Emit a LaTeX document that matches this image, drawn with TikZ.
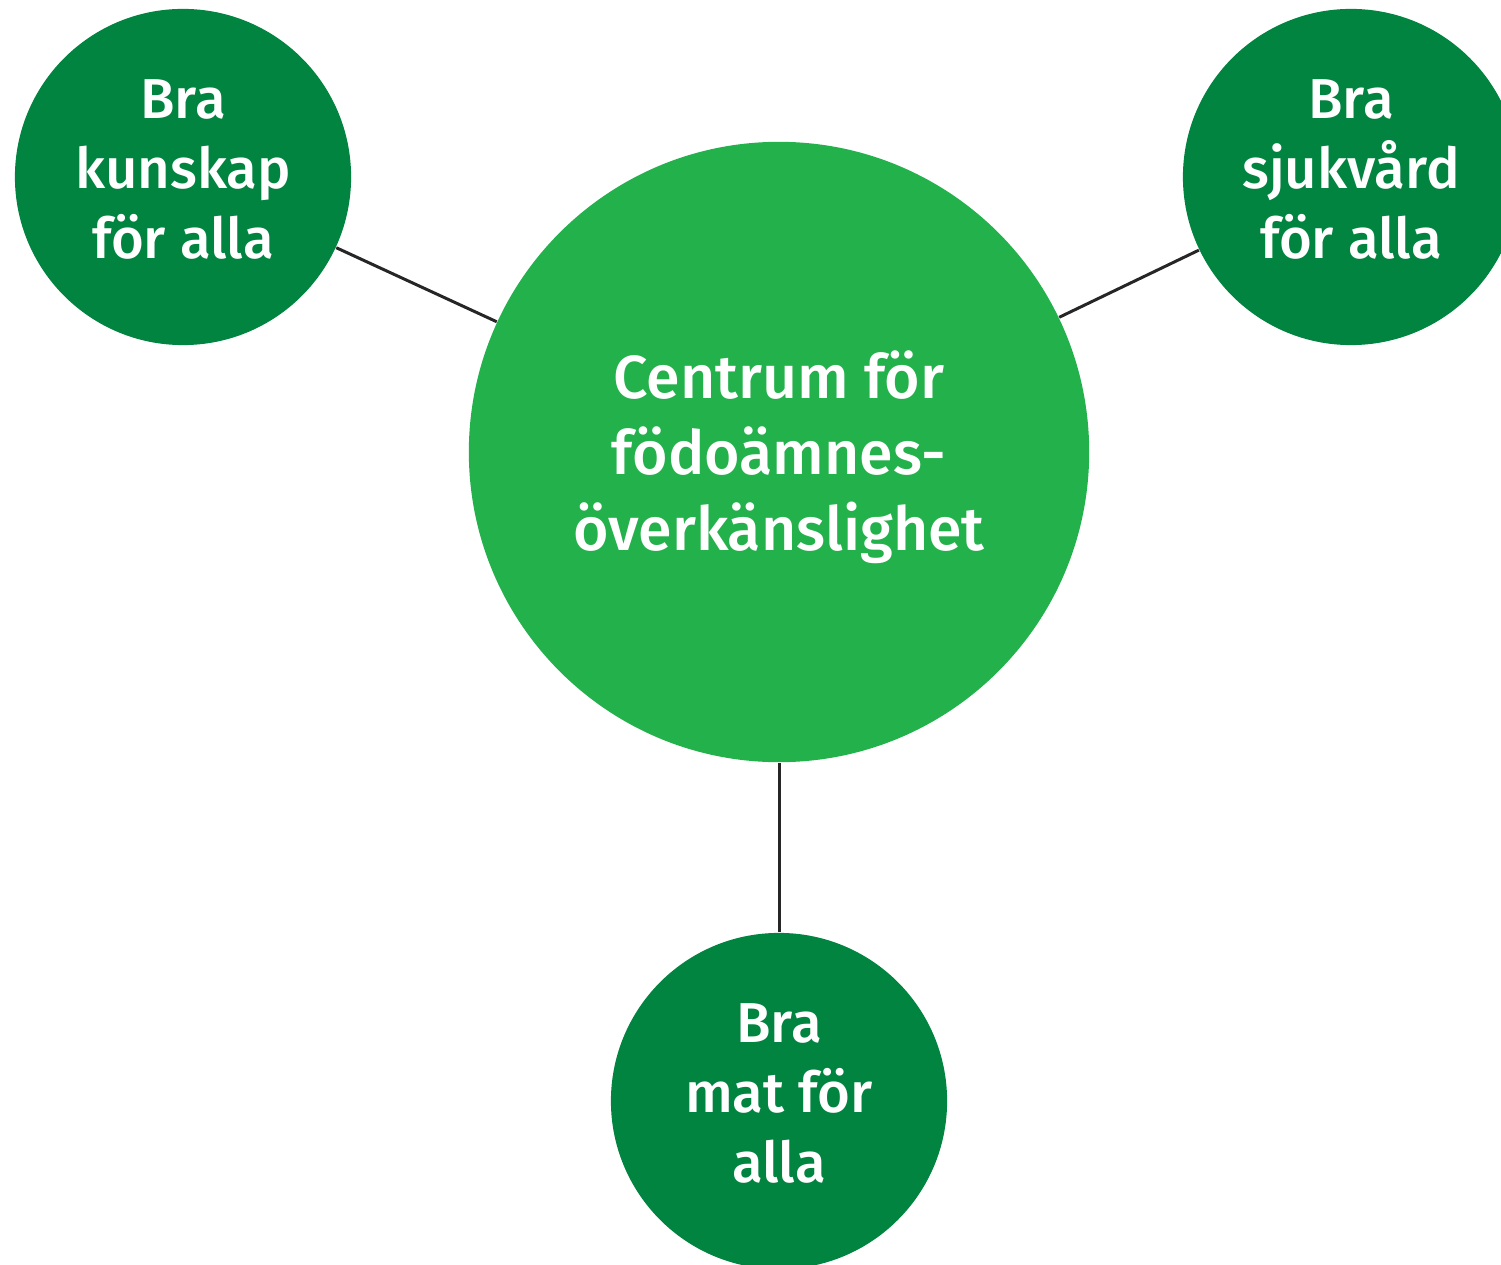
\documentclass[tikz,border=0pt]{standalone}
\usepackage{fontspec}
\setmainfont{Fira Sans}[BoldFont={Fira Sans Medium}]
\usepackage{tikz}

\definecolor{ljusgron}{HTML}{23B14B}
\definecolor{morkgron}{HTML}{00843F}

\begin{document}
\begin{tikzpicture}[x=0.01cm,y=-0.01cm,
  mitt/.style={circle, fill=ljusgron, minimum size=6.2cm, inner sep=0pt, text=white, align=center,
    text depth=1pt, font=\fontsize{17.3}{21.6}\selectfont\bfseries},
  gren/.style={circle, fill=morkgron, minimum size=3.36cm, inner sep=0pt, text=white, align=center,
    text depth=0.16cm, font=\fontsize{16}{19.9}\selectfont\bfseries},
  band/.style={draw=black!85, line width=0.85pt}]
\useasboundingbox (0,0) rectangle (1501,1264);
\node[mitt] (C) at (779,452) {Centrum för\\födoämnes-\\överkänslighet};
\node[gren] (K) at (183,177) {Bra\\kunskap\\för alla};
\node[gren] (S) at (1351,177) {Bra\\sjukvård\\för alla};
\node[gren] (M) at (779,1101) {Bra\\mat för\\alla};
\foreach \n in {K,S,M}
{\draw[band] (C) -- (\n);}
\end{tikzpicture}
\end{document}
